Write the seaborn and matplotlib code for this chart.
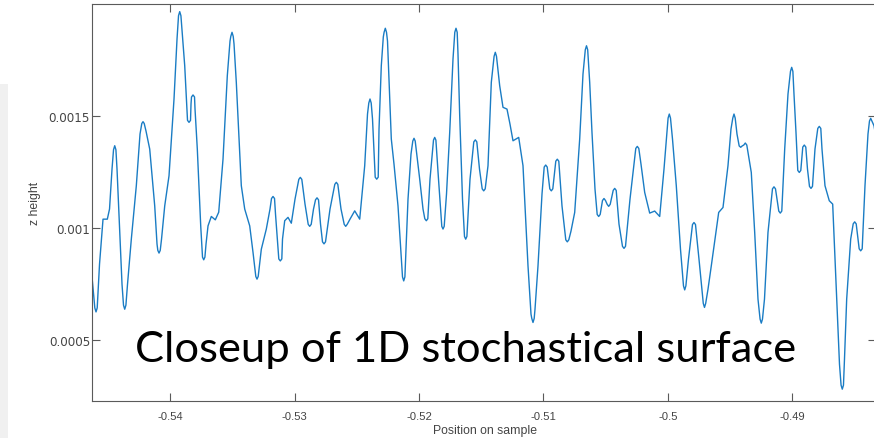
import matplotlib
matplotlib.use("Agg")
import matplotlib.pyplot as plt
import seaborn as sns
import pandas as pd
from matplotlib.patches import Rectangle

# ---------------- data ----------------
position = [
    -0.546350, -0.546070, -0.545973, -0.545877, -0.545691, -0.545410, -0.545064, -0.544887, -0.544687,
    -0.544566, -0.544469, -0.544373, -0.544285, -0.544068, -0.543883, -0.543763, -0.543666, -0.543570,
    -0.543441, -0.543135, -0.542733, -0.542436, -0.542292, -0.542195, -0.542099, -0.541953, -0.541656,
    -0.541254, -0.541069, -0.541005, -0.540908, -0.540811, -0.540707, -0.540450, -0.540105, -0.539703,
    -0.539461, -0.539340, -0.539244, -0.539148, -0.539035, -0.538842, -0.538658, -0.538497, -0.538336,
    -0.538175, -0.538014, -0.537830, -0.537556, -0.537412, -0.537315, -0.537219, -0.537130, -0.536969,
    -0.536704, -0.536383, -0.536109, -0.535764, -0.535418, -0.535201, -0.535137, -0.535040, -0.534944,
    -0.534879, -0.534695, -0.534293, -0.534019, -0.533617, -0.533352, -0.533128, -0.533031, -0.532935,
    -0.532685, -0.532283, -0.531986, -0.531744, -0.531543, -0.531399, -0.531158, -0.530981, -0.530804,
    -0.530539, -0.530273, -0.529976, -0.529550, -0.529172, -0.528794, -0.528489, -0.528207, -0.527926,
    -0.527645, -0.527162, -0.526656, -0.526278, -0.525900, -0.525555, -0.525177, -0.524775, -0.524373,
    -0.524148, -0.524044, -0.523947, -0.523851, -0.523746, -0.523408, -0.523223, -0.523039, -0.522878,
    -0.522814, -0.522717, -0.522621, -0.522540, -0.522235, -0.522018, -0.521696, -0.521455, -0.521335,
    -0.521238, -0.521142, -0.521053, -0.520892, -0.520651, -0.520507, -0.520410, -0.520314, -0.519951,
    -0.519686, -0.519421, -0.519124, -0.518843, -0.518746, -0.518650, -0.518440, -0.518176, -0.518079,
    -0.517983, -0.517797, -0.517540, -0.517275, -0.517131, -0.517034, -0.516938, -0.516873, -0.516736,
    -0.516511, -0.516351, -0.516254, -0.516158, -0.515908, -0.515482, -0.515145, -0.514807, -0.514461,
    -0.514196, -0.513972, -0.513875, -0.513779, -0.513521, -0.513256, -0.512934, -0.512693, -0.512452,
    -0.511993, -0.511648, -0.511246, -0.511005, -0.510941, -0.510844, -0.510748, -0.510683, -0.510442,
    -0.510120, -0.509823, -0.509373, -0.508891, -0.508513, -0.508087, -0.507789, -0.507492, -0.507090,
    -0.506825, -0.506640, -0.506543, -0.506447, -0.506286, -0.506102, -0.505860, -0.505563, -0.505137,
    -0.504759, -0.504276, -0.503931, -0.503529, -0.503046, -0.502460, -0.502162, -0.501865, -0.501463,
    -0.501061, -0.500659, -0.500313, -0.499984, -0.499887, -0.499791, -0.499630, -0.499325, -0.498987,
    -0.498746, -0.498649, -0.498553, -0.498344, -0.497902, -0.497500, -0.497155, -0.497058, -0.496962,
    -0.496776, -0.496511, -0.495916, -0.495570, -0.495169, -0.494928, -0.494783, -0.494686, -0.494590,
    -0.494445, -0.494148, -0.493778, -0.493296, -0.493022, -0.492757, -0.492589, -0.492492, -0.492396,
    -0.492235, -0.491953, -0.491471, -0.490965, -0.490610, -0.490345, -0.490145, -0.490048, -0.489952,
    -0.489863, -0.489702, -0.489437, -0.489035, -0.488778, -0.488497, -0.488175, -0.487829, -0.487612,
    -0.487371, -0.487026, -0.486752, -0.486431, -0.486205, -0.486078, -0.485981, -0.485885, -0.485804,
    -0.485627, -0.485305, -0.484983, -0.484501, -0.484155, -0.483914, -0.483794, -0.483697, -0.483601,
    -0.483431, -0.483109,
]

z_height = [
    0.000817, 0.000645, 0.000627, 0.000645, 0.000840, 0.001040, 0.001040, 0.001085, 0.001263,
    0.001349, 0.001367, 0.001349, 0.001263, 0.000982, 0.000750, 0.000657, 0.000639, 0.000657,
    0.000750, 0.000951, 0.001189, 0.001419, 0.001466, 0.001474, 0.001466, 0.001432, 0.001352,
    0.001099, 0.000929, 0.000901, 0.000889, 0.000901, 0.000951, 0.001099, 0.001233, 0.001575,
    0.001842, 0.001946, 0.001964, 0.001946, 0.001865, 0.001723, 0.001530, 0.001471, 0.001553,
    0.001593, 0.001530, 0.001352, 0.001010, 0.000871, 0.000859, 0.000871, 0.000929, 0.001010,
    0.001052, 0.001037, 0.001071, 0.001307, 0.001679, 0.001833, 0.001854, 0.001872, 0.001854,
    0.001820, 0.001649, 0.001189, 0.001085, 0.001010, 0.000892, 0.000785, 0.000773, 0.000785,
    0.000906, 0.000996, 0.001085, 0.001141, 0.001062, 0.000951, 0.000854, 0.000951, 0.001033,
    0.001048, 0.001022, 0.001129, 0.001226, 0.001107, 0.001008, 0.001085, 0.001135, 0.001018,
    0.000930, 0.001085, 0.001204, 0.001085, 0.001008, 0.001040, 0.001077, 0.001040, 0.001278,
    0.001508, 0.001557, 0.001575, 0.001557, 0.001486, 0.001218, 0.001441, 0.001723, 0.001851,
    0.001872, 0.001890, 0.001872, 0.001833, 0.001397, 0.001285, 0.001099, 0.000884, 0.000783,
    0.000765, 0.000783, 0.000906, 0.001129, 0.001330, 0.001388, 0.001400, 0.001388, 0.001218,
    0.001085, 0.001033, 0.001218, 0.001392, 0.001404, 0.001392, 0.001218, 0.001008, 0.000996,
    0.001008, 0.001152, 0.001426, 0.001753, 0.001872, 0.001890, 0.001872, 0.001775, 0.001500,
    0.001129, 0.000963, 0.000951, 0.000963, 0.001218, 0.001393, 0.001263, 0.001166, 0.001278,
    0.001649, 0.001765, 0.001783, 0.001765, 0.001634, 0.001538, 0.001530, 0.001463, 0.001389,
    0.001404, 0.001278, 0.000832, 0.000617, 0.000598, 0.000580, 0.000598, 0.000639, 0.000832,
    0.001152, 0.001281, 0.001166, 0.001307, 0.001099, 0.000939, 0.000987, 0.001070, 0.001397,
    0.001686, 0.001794, 0.001812, 0.001794, 0.001649, 0.001426, 0.001174, 0.001052, 0.001132,
    0.001097, 0.001177, 0.001018, 0.000910, 0.001129, 0.001364, 0.001285, 0.001159, 0.001067,
    0.001076, 0.001052, 0.001263, 0.001490, 0.001508, 0.001490, 0.001397, 0.001189, 0.000906,
    0.000743, 0.000725, 0.000743, 0.000862, 0.001025, 0.000862, 0.000665, 0.000647, 0.000665,
    0.000728, 0.000832, 0.001070, 0.001092, 0.001278, 0.001441, 0.001490, 0.001508, 0.001490,
    0.001419, 0.001360, 0.001379, 0.001248, 0.000981, 0.000684, 0.000595, 0.000577, 0.000595,
    0.000684, 0.000981, 0.001184, 0.001067, 0.001352, 0.001597, 0.001698, 0.001716, 0.001698,
    0.001597, 0.001426, 0.001248, 0.001370, 0.001263, 0.001177, 0.001352, 0.001453, 0.001352,
    0.001189, 0.001122, 0.001107, 0.000684, 0.000394, 0.000301, 0.000283, 0.000301, 0.000416,
    0.000684, 0.000951, 0.001028, 0.000899, 0.001189, 0.001419, 0.001477, 0.001489, 0.001477,
    0.001456, 0.001352,
]

# extra readings on the shoulders of the smaller peaks and dips
position_extra = [
    -0.529671, -0.529429, -0.528915, -0.528673, -0.528328, -0.528086, -0.527766, -0.527524,
    -0.526777, -0.526535, -0.526021, -0.525779, -0.531865, -0.531623, -0.531279, -0.531037,
    -0.538296, -0.538054, -0.538618, -0.538376, -0.509944, -0.509702, -0.509012, -0.508770,
    -0.509494, -0.509252, -0.502581, -0.502339, -0.503650, -0.503408, -0.515603, -0.515361,
    -0.491592, -0.491350, -0.491086, -0.490844, -0.487950, -0.487708, -0.489156, -0.488914,
    -0.523529, -0.523287, -0.493899, -0.493657, -0.494269, -0.494027, -0.485104, -0.484862,
    -0.484622, -0.484380, -0.498023, -0.497781, -0.508208, -0.507966, -0.514928, -0.514686,
    -0.519542, -0.519300, -0.489558, -0.489316, -0.488618, -0.488376, -0.505258, -0.505016,
    -0.504397, -0.504155, -0.505684, -0.505442, -0.504880, -0.504638,
]
z_extra = [
    0.001217, 0.001217, 0.001017, 0.001017, 0.001126, 0.001126, 0.000939, 0.000939,
    0.001195, 0.001195, 0.001017, 0.001017, 0.001132, 0.001132, 0.000863, 0.000863,
    0.001584, 0.001584, 0.001480, 0.001480, 0.001272, 0.001272, 0.001298, 0.001298,
    0.001175, 0.001175, 0.001355, 0.001355, 0.000919, 0.000919, 0.001384, 0.001384,
    0.001175, 0.001175, 0.001076, 0.001076, 0.001444, 0.001444, 0.001361, 0.001361,
    0.001227, 0.001227, 0.001370, 0.001370, 0.001366, 0.001366, 0.001019, 0.001019,
    0.000908, 0.000908, 0.001016, 0.001016, 0.000948, 0.000948, 0.001175, 0.001175,
    0.001042, 0.001042, 0.001257, 0.001257, 0.001186, 0.001186, 0.001123, 0.001123,
    0.001168, 0.001168, 0.001061, 0.001061, 0.001106, 0.001106,
]

x_ticks = [-0.54, -0.53, -0.52, -0.51, -0.50, -0.49]
x_tick_labels = ["-0.54", "-0.53", "-0.52", "-0.51", "-0.5", "-0.49"]
y_ticks = [0.0005, 0.001, 0.0015]
y_tick_labels = ["0.0005", "0.001", "0.0015"]
x_label = "Position on sample"
y_label = "z height"
overlay_text = "Closeup of 1D stochastical surface"

# ---------------- style ----------------
sns.set_theme(style="white")
plt.rcParams["font.family"] = ["Liberation Sans", "DejaVu Sans"]
plt.rcParams["axes.unicode_minus"] = False

W, H = 874, 439
fig = plt.figure(figsize=(W / 100, H / 100), dpi=100)
fig.patch.set_facecolor("white")

# faint grey strip at the far left edge
fig.patches.append(Rectangle((0, 0), 8 / W, (H - 85) / H, transform=fig.transFigure,
                             facecolor="#f0f0f0", edgecolor="none", zorder=0))

ax_left, ax_right, ax_top, ax_bottom = 91.7, 876.0, 5.0, 402.3
ax = fig.add_axes([ax_left / W, (H - ax_bottom) / H,
                   (ax_right - ax_left) / W, (ax_bottom - ax_top) / H])
ax.set_facecolor("white")

df = pd.DataFrame({"position": position + position_extra, "z": z_height + z_extra})
df = df.sort_values("position").reset_index(drop=True)
sns.lineplot(data=df, x="position", y="z", ax=ax, color="#1a7cc4",
             linewidth=1.0, estimator=None, sort=True)
for ln in ax.get_lines():
    ln.set_solid_joinstyle("round")
    ln.set_solid_capstyle("round")

ax.set_xlim(-0.54632, -0.48327)
ax.set_ylim(0.000229, 0.001998)
ax.grid(False)

frame_col = "#5a5a5a"
for s in ax.spines.values():
    s.set_visible(True)
    s.set_color(frame_col)
    s.set_linewidth(0.8)

ax.set_xticks(x_ticks)
ax.set_xticklabels(x_tick_labels, fontsize=8.1, color="#444444")
ax.set_yticks(y_ticks)
ax.set_yticklabels(y_tick_labels, fontsize=8.6, color="#444444", family="DejaVu Sans")
ax.tick_params(axis="both", direction="in", length=5.8, width=0.8, color=frame_col,
               top=True, right=True, bottom=True, left=True)
ax.tick_params(axis="x", pad=7.2)
ax.tick_params(axis="y", pad=1.2)

ax.set_xlabel(x_label, fontsize=8.8, color="#444444")
ax.xaxis.set_label_coords(0.502, -0.058)
ax.set_ylabel(y_label, fontsize=8.8, color="#444444")
ax.yaxis.set_label_coords(-0.0646, 0.5)

# big overlay caption
t = fig.text(135 / W, 1 - 361.7 / H, overlay_text, fontsize=30, family=["Lato", "DejaVu Sans"],
             color="black", ha="left", va="baseline")
fig.canvas.draw()
bb = t.get_window_extent()
t.set_fontsize(30 * 660.0 / bb.width)

fig.savefig("out.png", dpi=100)
